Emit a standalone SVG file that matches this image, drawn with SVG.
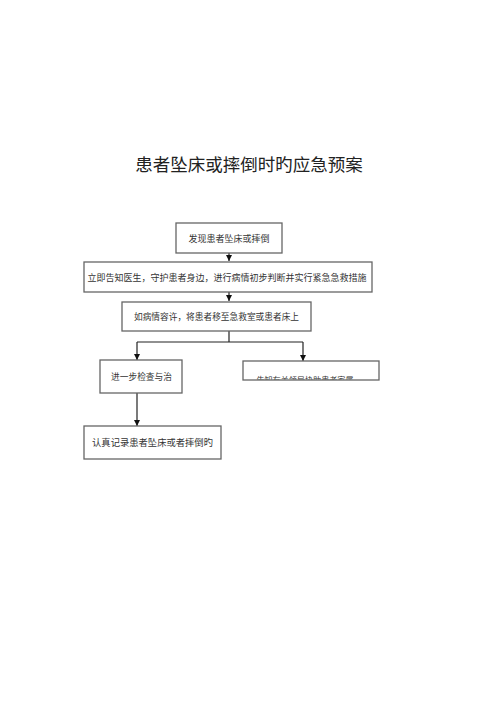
<svg xmlns="http://www.w3.org/2000/svg" width="500" height="707" viewBox="0 0 500 707">
<style>
.box{fill:#fff;stroke:#666;stroke-width:1.3}
.t{font-family:"Noto Sans CJK SC","Noto Sans CJK JP",sans-serif;fill:#333;text-anchor:middle}
.c{fill:none;stroke:#222;stroke-width:1.2}
</style>
<defs>
<marker id="ah" markerWidth="8" markerHeight="8" refX="6" refY="3" orient="auto" markerUnits="userSpaceOnUse">
<path d="M0,0 L6,3 L0,6 Z" fill="#111"/>
</marker>
<clipPath id="clip5"><rect x="244" y="362" width="135" height="17.5"/></clipPath>
</defs>
<rect width="500" height="707" fill="#fff"/>
<text class="t" x="249" y="171" font-size="17.5" style="fill:#222">患者坠床或摔倒时旳应急预案</text>
<g id="connectors">
<path class="c" d="M229,253 V261" marker-end="url(#ah)"/>
<path class="c" d="M229,292 V301" marker-end="url(#ah)"/>
<path class="c" d="M229,331 V342 M137,342 H303"/>
<path class="c" d="M137,342 V360" marker-end="url(#ah)"/>
<path class="c" d="M303,342 V361" marker-end="url(#ah)"/>
<path class="c" d="M137,393 V426" marker-end="url(#ah)"/>
</g>
<g id="n1">
<rect class="box" x="176" y="223" width="106" height="30"/>
<text class="t" x="229" y="242" font-size="9">发现患者坠床或摔倒</text>
</g>
<g id="n2">
<rect class="box" x="84" y="262" width="288" height="30"/>
<text class="t" x="227" y="281" font-size="9">立即告知医生，守护患者身边，进行病情初步判断并实行紧急急救措施</text>
</g>
<g id="n3">
<rect class="box" x="122" y="302" width="189" height="29"/>
<text class="t" x="216.5" y="320" font-size="8.7">如病情容许，将患者移至急救室或患者床上</text>
</g>
<g id="n4">
<rect class="box" x="100" y="360" width="82" height="33"/>
<text class="t" x="141.5" y="380" font-size="8.7">进一步检查与治</text>
</g>
<g id="n5">
<rect class="box" x="243" y="361" width="136" height="19"/>
<text class="t" x="305" y="383" font-size="8.1" clip-path="url(#clip5)">告知有关领导协助患者家属</text>
</g>
<g id="n6">
<rect class="box" x="84" y="426" width="137" height="33"/>
<text class="t" x="152.5" y="446" font-size="9.3">认真记录患者坠床或者摔倒旳</text>
</g>
</svg>
